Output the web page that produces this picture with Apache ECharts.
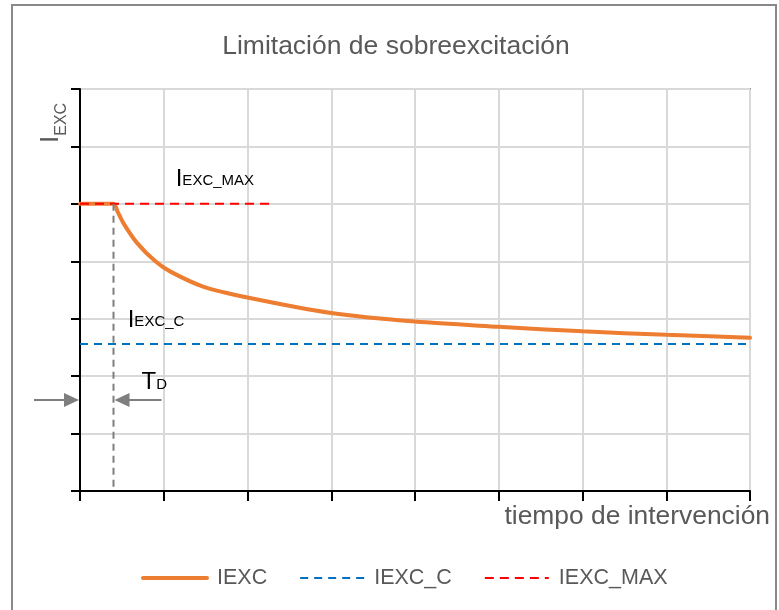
<!DOCTYPE html>
<html><head><meta charset="utf-8">
<script src="https://cdn.jsdelivr.net/npm/echarts@6/dist/echarts.min.js"></script>
<style>html,body{margin:0;padding:0;background:#fff}#c{width:779px;height:610px}</style>
</head><body><div id="c"></div>
<script>
// ---- data ----
const timeX = [0, 0.4, 0.45, 0.52, 0.68, 0.9, 1.08, 1.47, 2, 3, 4, 5, 6, 7, 8];
const iexcValues = [5, 5, 4.86, 4.66, 4.32, 4.0, 3.82, 3.56, 3.37, 3.10, 2.95, 2.86, 2.78, 2.72, 2.67];
const iexcCLevel = 2.56;
const iexcMaxLevel = 5;
const iexcMaxRange = [0, 2.29];
const tdTime = 0.4;
const seriesNames = ['IEXC', 'IEXC_C', 'IEXC_MAX'];
const xRange = [0, 8];
const yRange = [0, 7];
const titleText = 'Limitación de sobreexcitación';
const xAxisName = 'tiempo de intervención';

const FONT = '"Liberation Sans", Arial, sans-serif';
const GRAY_TXT = '#595959';
const chart = echarts.init(document.getElementById('c'), null, {renderer: 'canvas'});

const axisCommon = {
  type: 'value', interval: 1,
  axisLine: {show: true, onZero: false, lineStyle: {color: '#000', width: 2}},
  axisLabel: {show: false},
  splitLine: {show: true, lineStyle: {color: '#d9d9d9', width: 2}}
};

const option = {
  animation: false,
  textStyle: {fontFamily: FONT},
  grid: {left: 80, right: 29, top: 89, bottom: 119, show: true, borderColor: '#8c8c8c', borderWidth: 2},
  xAxis: Object.assign({}, axisCommon, {min: xRange[0], max: xRange[1],
    axisTick: {show: true, length: 10, lineStyle: {color: '#000', width: 2}}}),
  yAxis: Object.assign({}, axisCommon, {min: yRange[0], max: yRange[1],
    axisTick: {show: true, length: 9, lineStyle: {color: '#000', width: 2}}}),
  legend: {
    left: 141, top: 567, padding: 0, itemWidth: 64, itemHeight: 14, itemGap: 32,
    itemStyle: {opacity: 0},
    textStyle: {fontSize: 21.5, color: GRAY_TXT, fontFamily: FONT, padding: [0, 0, 0, 5]},
    data: [
      {name: seriesNames[0], lineStyle: {width: 4, cap: 'round'}},
      {name: seriesNames[1], lineStyle: {width: 2}},
      {name: seriesNames[2], lineStyle: {width: 2}}
    ]
  },
  series: [
    {name: seriesNames[0], type: 'line', symbol: 'none', smooth: 0.3,
      data: timeX.map((t, i) => [t, iexcValues[i]]),
      lineStyle: {color: '#ED7D31', width: 4, cap: 'round'}, itemStyle: {color: '#ED7D31'}},
    {name: seriesNames[1], type: 'line', symbol: 'none',
      data: [[xRange[0], iexcCLevel], [xRange[1], iexcCLevel]],
      lineStyle: {color: '#0070C0', width: 2, type: [8, 6]}, itemStyle: {color: '#0070C0'}},
    {name: seriesNames[2], type: 'line', symbol: 'none',
      data: [[iexcMaxRange[0], iexcMaxLevel], [iexcMaxRange[1], iexcMaxLevel]],
      lineStyle: {color: '#FF0000', width: 2, type: [9, 6]}, itemStyle: {color: '#FF0000'}},
    {name: 'TD', type: 'line', symbol: 'none',
      data: [[tdTime, iexcMaxLevel], [tdTime, yRange[0]]],
      lineStyle: {color: '#7f7f7f', width: 2, type: [7, 5]}, itemStyle: {color: '#7f7f7f'}}
  ]
};
chart.setOption(option);

// ---- annotations ----
const MID = 0.22;
function txt(x, baseline, text, fs, color) {
  return {type: 'text', x: x, y: baseline - MID * fs, silent: true,
    style: {text: text, fontSize: fs, fontFamily: FONT, fill: color, align: 'left', verticalAlign: 'middle'}};
}
function subLabel(x, baseline, big, small, fsBig, fsSmall, color, subDrop) {
  const wBig = (big === 'T' ? 0.611 : 0.278) * fsBig;
  return [txt(x, baseline, big, fsBig, color), txt(x + wBig, baseline + (subDrop || 0), small, fsSmall, color)];
}

const p0 = chart.convertToPixel({gridIndex: 0}, [xRange[0], yRange[0]]);
const pTd = chart.convertToPixel({gridIndex: 0}, [tdTime, yRange[0]]);
const arrowY = 400;
const ARROW = '#7f7f7f';
const leftTip = p0[0] - 1, rightTip = pTd[0] + 1;

const graphics = [
  {type: 'rect', silent: true, shape: {x: 12, y: 5, width: 764, height: 620}, style: {fill: 'none', stroke: '#898989', lineWidth: 2}},
  {type: 'text', silent: true, x: 396, y: 52.5 - MID * 26.5,
    style: {text: titleText, fontSize: 26.5, fontFamily: FONT, fill: GRAY_TXT, align: 'center', verticalAlign: 'middle'}},
  {type: 'text', silent: true, x: 770, y: 522.5 - MID * 26.4,
    style: {text: xAxisName, fontSize: 26.4, fontFamily: FONT, fill: GRAY_TXT, align: 'right', verticalAlign: 'middle'}},
  // rotated y label
  {type: 'text', silent: true, x: 60 - 0.35 * 26, y: 143, rotation: Math.PI / 2,
    style: {text: 'I', fontSize: 26, fontFamily: FONT, fill: GRAY_TXT, align: 'left', verticalAlign: 'middle'}},
  {type: 'text', silent: true, x: 66.7 - 0.35 * 16, y: 143 - 0.278 * 26, rotation: Math.PI / 2,
    style: {text: 'EXC', fontSize: 16, fontFamily: FONT, fill: GRAY_TXT, align: 'left', verticalAlign: 'middle'}},
  // arrows
  {type: 'polyline', silent: true, shape: {points: [[leftTip - 45, arrowY], [leftTip - 12, arrowY]]}, style: {stroke: ARROW, lineWidth: 2}},
  {type: 'polygon', silent: true, shape: {points: [[leftTip - 15, arrowY - 7], [leftTip, arrowY], [leftTip - 15, arrowY + 7]]}, style: {fill: ARROW}},
  {type: 'polyline', silent: true, shape: {points: [[rightTip + 12, arrowY], [rightTip + 47, arrowY]]}, style: {stroke: ARROW, lineWidth: 2}},
  {type: 'polygon', silent: true, shape: {points: [[rightTip + 15, arrowY - 7], [rightTip, arrowY], [rightTip + 15, arrowY + 7]]}, style: {fill: ARROW}}
]
.concat(subLabel(175.7, 184.5, 'I', 'EXC_MAX', 24, 15, '#000'))
.concat(subLabel(127.7, 325.5, 'I', 'EXC_C', 24, 15, '#000'))
.concat(subLabel(141.5, 387.5, 'T', 'D', 24, 15, '#000', 1));

chart.setOption({graphic: graphics});
</script>
</body></html>
